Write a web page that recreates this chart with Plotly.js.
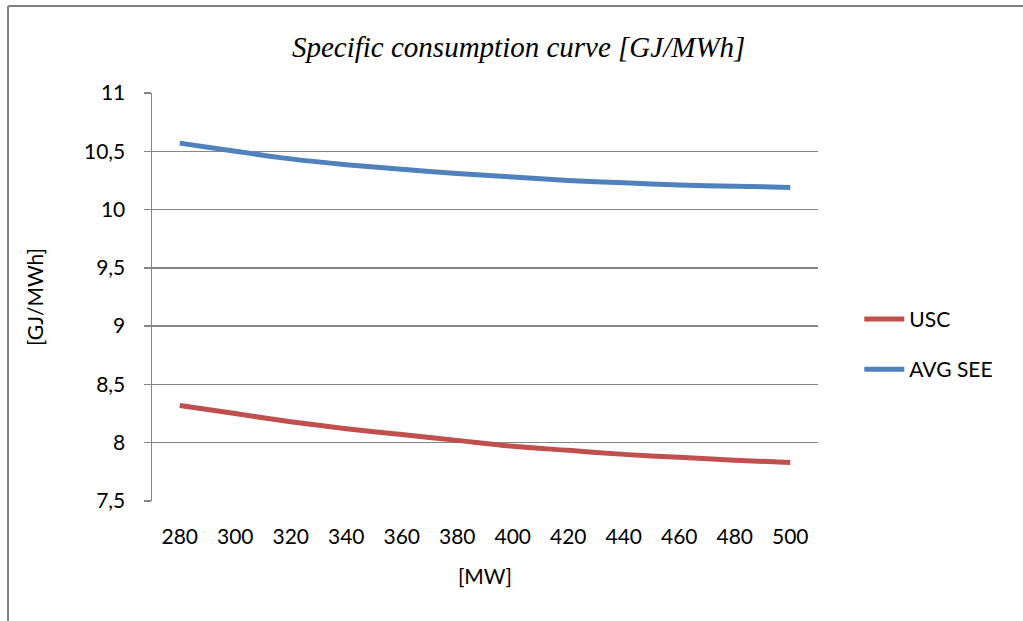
<!DOCTYPE html>
<html>
<head>
<meta charset="utf-8">
<script src="https://cdn.plot.ly/plotly-3.0.1.min.js"></script>
<style>html,body{margin:0;padding:0;background:#fff;}#chart{width:1023px;height:621px;}</style>
</head>
<body>
<div id="chart"></div>
<script>
const categories = ["280","300","320","340","360","380","400","420","440","460","480","500"];
const uscValues = [8.32, 8.25, 8.18, 8.12, 8.07, 8.02, 7.97, 7.935, 7.90, 7.875, 7.85, 7.83];
const avgSeeValues = [10.57, 10.50, 10.435, 10.385, 10.345, 10.31, 10.28, 10.25, 10.23, 10.21, 10.20, 10.19];
const yTickVals = [7.5, 8, 8.5, 9, 9.5, 10, 10.5, 11];
const yTickText = ["7,5", "8", "8,5", "9", "9,5", "10", "10,5", "11"];

const FONT = "Lato, 'Open Sans', sans-serif";
const traces = [
  {x: categories, y: uscValues, type: 'scatter', mode: 'lines', name: 'USC', legendgroup: 'a',
   line: {color: '#C0504D', width: 5, shape: 'spline', smoothing: 0.8}},
  {x: categories, y: avgSeeValues, type: 'scatter', mode: 'lines', name: 'AVG SEE', legendgroup: 'b',
   line: {color: '#4F81BD', width: 5, shape: 'spline', smoothing: 0.8}}
];
const layout = {
  width: 1023, height: 621,
  margin: {l: 152, r: 205, t: 93, b: 120},
  paper_bgcolor: '#fff', plot_bgcolor: '#fff',
  font: {family: FONT, size: 21, color: '#000'},
  title: {text: 'Specific consumption curve [GJ/MWh]', x: 0.507, xanchor: 'center', y: 0.925, yanchor: 'middle',
          font: {family: "'Liberation Serif', 'DejaVu Serif', serif", size: 29, style: 'italic', color: '#000'}},
  xaxis: {type: 'category', range: [-0.5, 11.5], showgrid: false, zeroline: false,
          showline: false, ticks: '', ticklabelstandoff: 21,
          tickfont: {family: FONT, size: 21},
          title: {text: '[MW]', font: {family: FONT, size: 21}, standoff: 22}},
  yaxis: {range: [7.5, 11], tickvals: yTickVals, ticktext: yTickText,
          showgrid: true, gridcolor: '#868686', gridwidth: 1.5, zeroline: false,
          showline: true, linecolor: '#868686', linewidth: 1.5,
          ticks: 'outside', ticklen: 7, tickcolor: '#868686', tickwidth: 1.5, ticklabelstandoff: 14,
          tickfont: {family: FONT, size: 21},
          title: {text: '[GJ/MWh]', font: {family: FONT, size: 21}, standoff: 34}},
  showlegend: true,
  legend: {x: 1.062, xanchor: 'left', y: 0.384, yanchor: 'middle', traceorder: 'grouped', tracegroupgap: 20,
           font: {family: FONT, size: 21}, bgcolor: 'rgba(0,0,0,0)', itemwidth: 40},
  shapes: [
    {type: 'line', xref: 'paper', yref: 'paper', x0: -0.2162, x1: 1.31, y0: 1.2134, y1: 1.2134,
     line: {color: '#808080', width: 2}},
    {type: 'line', xref: 'paper', yref: 'paper', x0: -0.2162, x1: -0.2162, y0: 1.2134, y1: -0.3,
     line: {color: '#808080', width: 2}}
  ]
};
Plotly.newPlot('chart', traces, layout, {displayModeBar: false, staticPlot: true});
</script>
</body>
</html>
